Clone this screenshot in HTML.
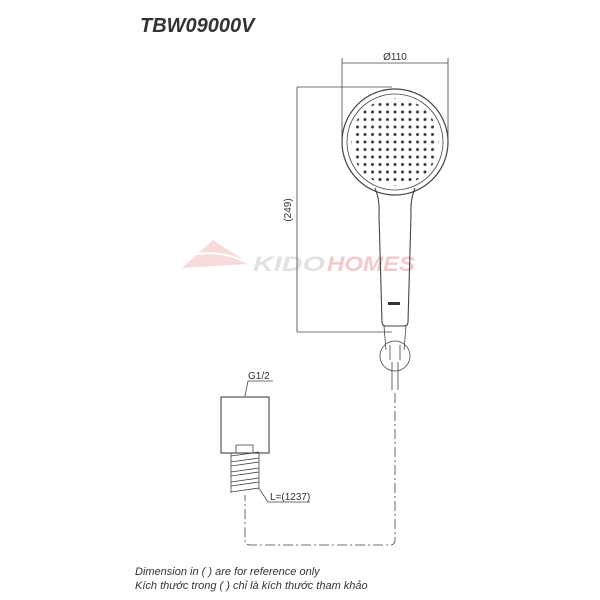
<!DOCTYPE html>
<html><head><meta charset="utf-8"><style>
html,body{margin:0;padding:0;background:#fff;width:600px;height:600px;overflow:hidden}
svg{display:block}
</style></head><body>
<svg width="600" height="600" viewBox="0 0 600 600" xmlns="http://www.w3.org/2000/svg" font-family="Liberation Sans, sans-serif">
<defs>
<pattern id="dp" x="391.25" y="138.25" width="7.5" height="7.5" patternUnits="userSpaceOnUse">
<circle cx="3.75" cy="3.75" r="1.5" fill="#333"/>
</pattern>
</defs>
<text x="140" y="32" font-size="20" font-weight="bold" font-style="italic" fill="#333">TBW09000V</text>
<g opacity="0.6">
<path d="M182 268 L213 240 L250 264 Z" fill="#f2c4c4"/>
<path d="M196 254 Q228 250 252 266" stroke="#fff" stroke-width="2" fill="none"/>
<text x="253" y="271" font-size="21" font-weight="bold" font-style="italic" fill="#cfcfcf" textLength="72" lengthAdjust="spacingAndGlyphs">KIDO</text>
<text x="327" y="271" font-size="21" font-weight="bold" font-style="italic" fill="#eaa8a8" textLength="88" lengthAdjust="spacingAndGlyphs">HOMES</text>
</g>
<circle cx="395" cy="142" r="44" fill="url(#dp)"/>
<g stroke="#444" stroke-width="0.8" fill="none">
<line x1="342" y1="58" x2="342" y2="142"/>
<line x1="448" y1="58" x2="448" y2="142"/>
<line x1="342" y1="63" x2="448" y2="63"/>
<line x1="297" y1="87" x2="392" y2="87"/>
<line x1="297" y1="332" x2="392" y2="332"/>
<line x1="297" y1="87" x2="297" y2="332"/>
<circle cx="395" cy="142" r="53" stroke-width="1.2"/>
<circle cx="395" cy="142" r="48"/>
<path d="M375 188 Q380 200 379 215 L382 322 Q382 326 386 326 L404 326 Q408 326 408 322 L411 215 Q410 200 415 188" stroke-width="1.1"/>
<circle cx="395" cy="356" r="15"/>
<path d="M384 326 L386 350 M406 326 L404 350 M390 345 L390 360 M400 345 L400 360"/>
<path d="M392 362 L392 390 M398 362 L398 390"/>
<path d="M395 393 L395 540 Q395 545 390 545 L250 545 Q245 545 245 540 L245 495" stroke-dasharray="10 3 2 3"/>
<rect x="221" y="397" width="48" height="56" stroke-width="1.1"/>
<rect x="236" y="445" width="17" height="8"/>
<path d="M231 456 L259 452 M231 462 L259 458 M231 466 L259 462 M231 472 L259 468 M231 476 L259 472 M231 482 L259 478 M231 486 L259 482 M231 492 L259 488 M231 453 L231 493 M259 453 L259 490"/>
<path d="M273 381 L248 381 L245 396"/>
<path d="M310 502 L268 502 L260 490"/>
</g>
<rect x="388" y="302" width="12" height="3" fill="#333"/>
<g font-size="10" fill="#333">
<text x="395" y="60" text-anchor="middle">Ø110</text>
<text transform="translate(291,210) rotate(-90)" text-anchor="middle">(249)</text>
<text x="248" y="379">G1/2</text>
<text x="270" y="500">L=(1237)</text>
</g>
<g font-size="11" font-style="italic" fill="#333">
<text x="135" y="575">Dimension in ( ) are for reference only</text>
<text x="135" y="589">Kích thước trong ( ) chỉ là kích thước tham khảo</text>
</g>
</svg>
</body></html>
